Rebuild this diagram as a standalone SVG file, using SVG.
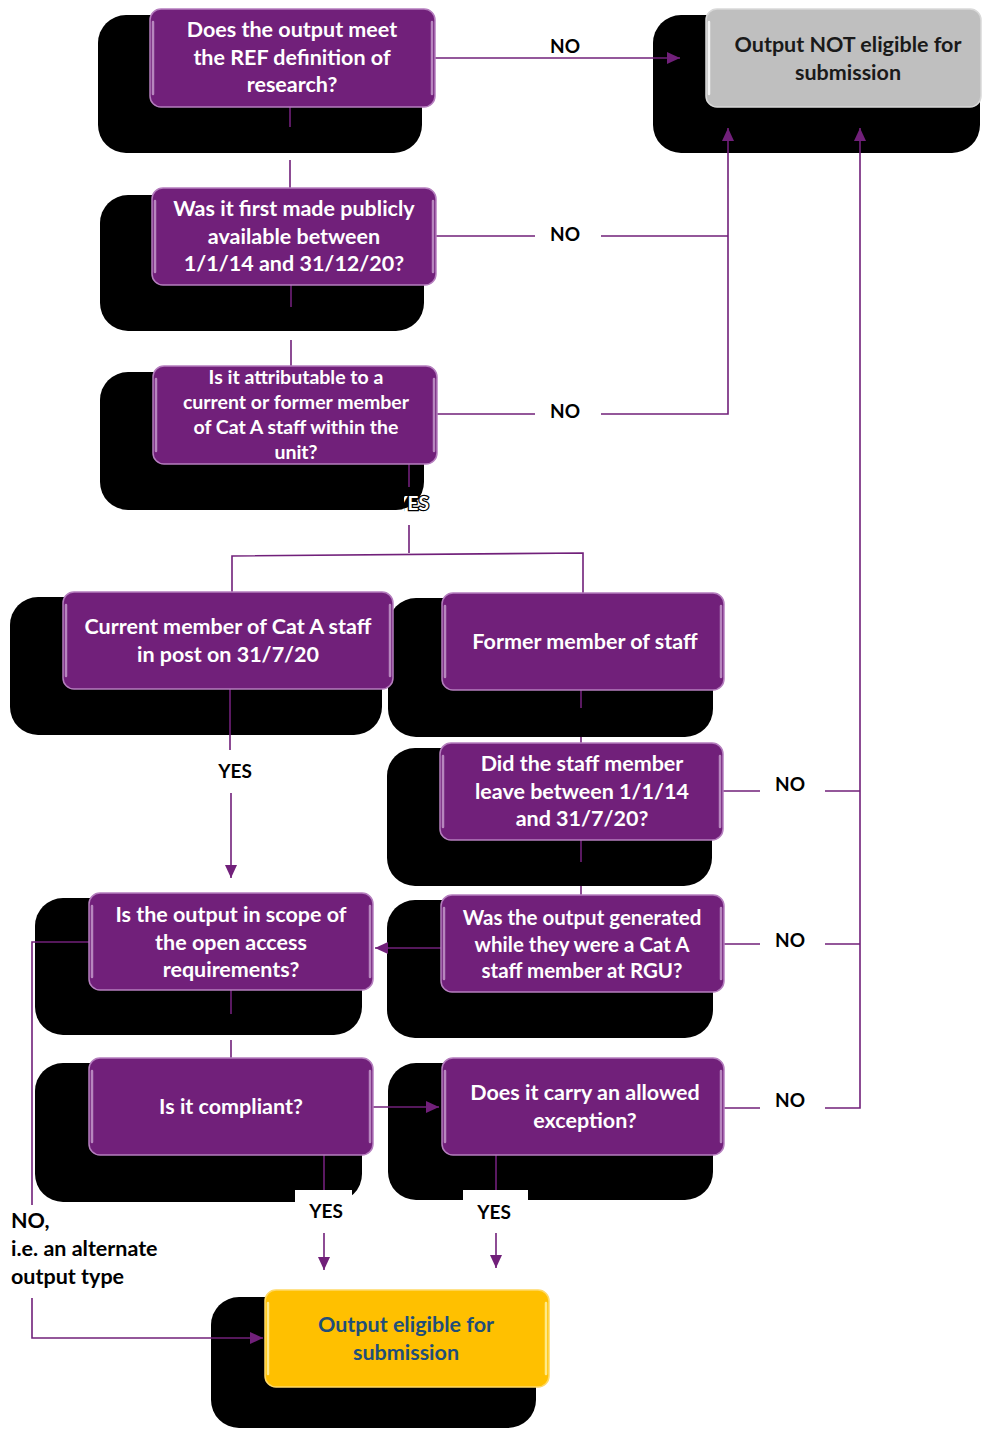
<svg xmlns="http://www.w3.org/2000/svg" width="982" height="1429" viewBox="0 0 982 1429">
<defs>
<style>
.sh{fill:#000}
.bx{fill:#71207A;stroke:#B57EBE;stroke-width:1.5}
.hl{stroke:#C9A0D0;stroke-width:2.5;stroke-linecap:round;fill:none;opacity:.8}
.t{font-family:Lato,"Liberation Sans",sans-serif;font-weight:bold;font-size:21.5px;fill:#fff;text-anchor:middle}
.t3{font-size:19.5px}
.lb{font-family:Lato,"Liberation Sans",sans-serif;font-weight:bold;font-size:19px;fill:#000;text-anchor:middle}
.lt{font-family:Lato,"Liberation Sans",sans-serif;font-weight:bold;font-size:21.5px;fill:#000}
.c{fill:none;stroke:#71207A;stroke-width:1.6}
</style>
<marker id="ar" markerUnits="userSpaceOnUse" markerWidth="14" markerHeight="12" refX="13" refY="6" orient="auto">
<path d="M0,0 L13,6 L0,12 z" fill="#71207A"/>
</marker>
<clipPath id="esclip"><rect x="404" y="488" width="30" height="30"/></clipPath>
</defs>
<rect width="982" height="1429" fill="#fff"/>

<g id="connectors-under">
<path class="c" d="M409,525 V553 M232,592 V556 L583,553 V593"/>
<path class="c" d="M231,793 V878" marker-end="url(#ar)"/>
<path class="c" d="M290,160 V188 M291,340 V366 M581,727 V743 M581,878 V895 M231,1040 V1058"/>
</g>

<g id="labels">
<text class="lb" x="565" y="53">NO</text>
<text class="lb" x="565" y="241">NO</text>
<text class="lb" x="565" y="418">NO</text>
<text class="lb" x="790" y="791">NO</text>
<text class="lb" x="790" y="947">NO</text>
<text class="lb" x="790" y="1107">NO</text>
<text class="lb" x="235" y="778">YES</text>
<text class="lt" x="11" y="1228">NO,</text>
<text class="lt" x="11" y="1256">i.e. an alternate</text>
<text class="lt" x="11" y="1284">output type</text>
</g>

<g id="shadows">
<rect class="sh" x="98" y="15" width="324" height="138" rx="28"/>
<rect class="sh" x="653" y="15" width="327" height="138" rx="28"/>
<rect class="sh" x="100" y="195" width="324" height="136" rx="28"/>
<rect class="sh" x="100" y="372" width="324" height="138" rx="28"/>
<rect class="sh" x="10" y="597" width="372" height="138" rx="28"/>
<rect class="sh" x="388" y="598" width="325" height="139" rx="28"/>
<rect class="sh" x="387" y="748" width="325" height="138" rx="28"/>
<rect class="sh" x="35" y="898" width="327" height="137" rx="28"/>
<rect class="sh" x="387" y="900" width="326" height="138" rx="28"/>
<rect class="sh" x="35" y="1063" width="327" height="139" rx="28"/>
<rect class="sh" x="388" y="1063" width="325" height="137" rx="28"/>
<rect class="sh" x="211" y="1297" width="325" height="131" rx="28"/>
</g>

<g id="connectors">
<path class="c" d="M435,58 H680" marker-end="url(#ar)"/>
<path class="c" d="M436,236 H535 M601,236 H728"/>
<path class="c" d="M437,414 H535 M601,414 H728 V128" marker-end="url(#ar)"/>
<path class="c" d="M723,791 H760 M825,791 H860 M724,944 H760 M825,944 H860 M724,1108 H760"/>
<path class="c" d="M825,1108 H860 V128" marker-end="url(#ar)"/>
<path class="c" d="M441,948 H375" marker-end="url(#ar)"/>
<path class="c" d="M373,1107 H439" marker-end="url(#ar)"/>
<path class="c" d="M324,1233 V1270" marker-end="url(#ar)"/>
<path class="c" d="M496,1233 V1268" marker-end="url(#ar)"/>
<path class="c" d="M89,942 H32 V1205 M32,1298 V1338 H263" marker-end="url(#ar)"/>
<path class="c" d="M290,107 V127 M291,285 V307 M409,464 V487 M581,690 V708 M581,840 V862 M231,990 V1014 M230,689 V750"/>
<text class="lb" x="412" y="510" clip-path="url(#esclip)" style="fill:#fff;stroke:#000;stroke-width:2.5;paint-order:stroke">YES</text>
<rect x="295" y="1190" width="57" height="42" fill="#fff"/>
<rect x="463" y="1190" width="65" height="42" fill="#fff"/>
<path class="c" d="M324,1155 V1190 M496,1155 V1190"/>
<text class="lb" x="326" y="1218">YES</text>
<text class="lb" x="494" y="1219">YES</text>
</g>

<g id="n1">
<rect class="bx" x="150" y="9" width="285" height="98" rx="11"/>
<path class="hl" d="M153,22 V94 M432,22 V94"/>
<text class="t" x="292" y="37">Does the output meet</text>
<text class="t" x="292" y="65">the REF definition of</text>
<text class="t" x="292" y="92">research?</text>
</g>
<g id="n-not">
<rect x="706" y="9" width="275" height="98" rx="11" fill="#BFBFBF" stroke="#D9D9D9" stroke-width="1.5"/>
<path d="M709,22 V94" stroke="#fff" stroke-width="2.5" stroke-linecap="round" opacity=".8"/>
<text class="t" x="848" y="52" style="fill:#1a1a1a">Output NOT eligible for</text>
<text class="t" x="848" y="80" style="fill:#1a1a1a">submission</text>
</g>
<g id="n2">
<rect class="bx" x="152" y="188" width="284" height="97" rx="11"/>
<path class="hl" d="M155,201 V272 M433,201 V272"/>
<text class="t" x="294" y="216">Was it first made publicly</text>
<text class="t" x="294" y="244">available between</text>
<text class="t" x="294" y="271">1/1/14 and 31/12/20?</text>
</g>
<g id="n3">
<rect class="bx" x="153" y="366" width="284" height="98" rx="11"/>
<path class="hl" d="M156,379 V451 M434,379 V451"/>
<text class="t t3" x="296" y="384">Is it attributable to a</text>
<text class="t t3" x="296" y="409">current or former member</text>
<text class="t t3" x="296" y="434">of Cat A staff within the</text>
<text class="t t3" x="296" y="459">unit?</text>
</g>
<g id="n-current">
<rect class="bx" x="63" y="592" width="330" height="97" rx="11"/>
<path class="hl" d="M66,605 V676 M390,605 V676"/>
<text class="t" x="228" y="634">Current member of Cat A staff</text>
<text class="t" x="228" y="662">in post on 31/7/20</text>
</g>
<g id="n-former">
<rect class="bx" x="442" y="593" width="282" height="97" rx="11"/>
<path class="hl" d="M445,606 V677 M721,606 V677"/>
<text class="t" x="585" y="649">Former member of staff</text>
</g>
<g id="n-did">
<rect class="bx" x="440" y="743" width="283" height="97" rx="11"/>
<path class="hl" d="M443,756 V827 M720,756 V827"/>
<text class="t" x="582" y="771">Did the staff member</text>
<text class="t" x="582" y="799">leave between 1/1/14</text>
<text class="t" x="582" y="826">and 31/7/20?</text>
</g>
<g id="n-scope">
<rect class="bx" x="89" y="893" width="284" height="97" rx="11"/>
<path class="hl" d="M92,906 V977 M370,906 V977"/>
<text class="t" x="231" y="922">Is the output in scope of</text>
<text class="t" x="231" y="950">the open access</text>
<text class="t" x="231" y="977">requirements?</text>
</g>
<g id="n-was">
<rect class="bx" x="441" y="895" width="283" height="97" rx="11"/>
<path class="hl" d="M444,908 V979 M721,908 V979"/>
<text class="t" x="582" y="925" style="font-size:20.5px">Was the output generated</text>
<text class="t" x="582" y="952" style="font-size:20.5px">while they were a Cat A</text>
<text class="t" x="582" y="978" style="font-size:20.5px">staff member at RGU?</text>
</g>
<g id="n-compliant">
<rect class="bx" x="89" y="1058" width="284" height="97" rx="11"/>
<path class="hl" d="M92,1071 V1142 M370,1071 V1142"/>
<text class="t" x="231" y="1114">Is it compliant?</text>
</g>
<g id="n-carry">
<rect class="bx" x="442" y="1058" width="282" height="97" rx="11"/>
<path class="hl" d="M445,1071 V1142 M721,1071 V1142"/>
<text class="t" x="585" y="1100">Does it carry an allowed</text>
<text class="t" x="585" y="1128">exception?</text>
</g>
<g id="n-eligible">
<rect x="265" y="1290" width="284" height="97" rx="11" fill="#FFC000" stroke="#FFD966" stroke-width="1.5"/>
<path d="M268,1303 V1374 M546,1303 V1374" stroke="#FFE98A" stroke-width="2.5" stroke-linecap="round" fill="none"/>
<text class="t" x="406" y="1332" style="fill:#1F4E79">Output eligible for</text>
<text class="t" x="406" y="1360" style="fill:#1F4E79">submission</text>
</g>
</svg>
